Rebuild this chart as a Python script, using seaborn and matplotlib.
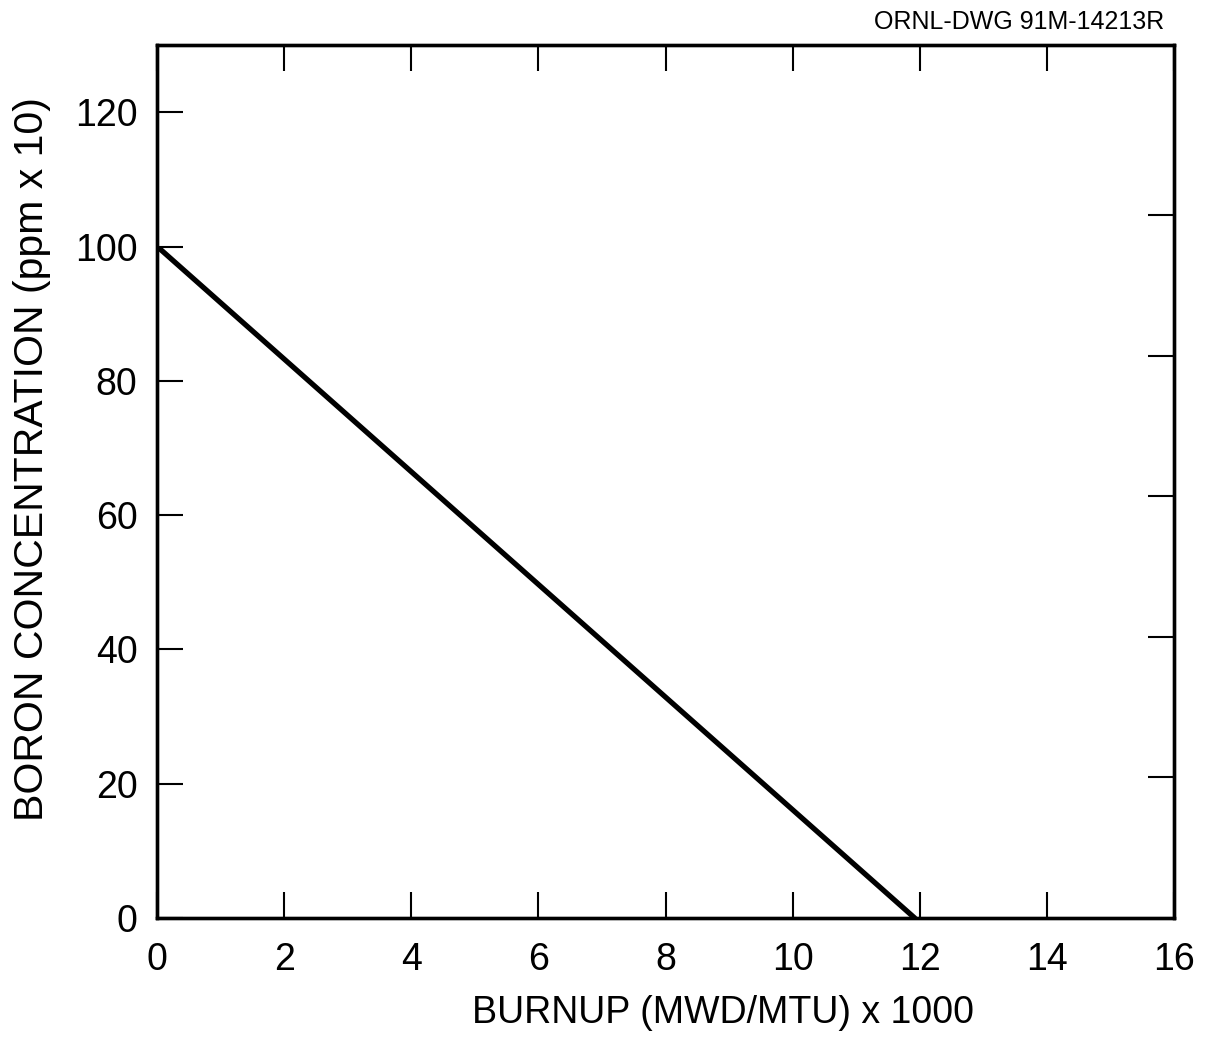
import numpy as np
import matplotlib
matplotlib.use('Agg')
import matplotlib.pyplot as plt
import seaborn as sns
import pandas as pd

# valores
quemado = [0.05, 11.92]          # BURNUP (MWD/MTU) x 1000
boro = [99.6, 0.0]               # BORON CONCENTRATION (ppm x 10)
ticks_x = [0, 2, 4, 6, 8, 10, 12, 14, 16]
ticks_y = [0, 20, 40, 60, 80, 100, 120]
ticks_derecha = [20, 40, 60, 80, 100]

sns.set_style('ticks')
plt.rcParams['font.family'] = ['Liberation Sans', 'DejaVu Sans']
plt.rcParams['text.color'] = 'black'
plt.rcParams['axes.labelcolor'] = 'black'
plt.rcParams['axes.edgecolor'] = 'black'

fig = plt.figure(figsize=(12.09, 10.38), dpi=100)
ax = fig.add_axes([0.1299, 0.1156, 0.8412, 0.841])

datos = pd.DataFrame({'x': quemado, 'y': boro})
sns.lineplot(data=datos, x='x', y='y', ax=ax, color='black', linewidth=3.8)

ax.set_xlim(0, 16)
ax.set_ylim(0, 130)
ax.set_xticks(ticks_x)
ax.set_yticks(ticks_y)
ax.tick_params(axis='both', direction='in', length=19, width=1.5, labelsize=27, colors='black')
ax.tick_params(axis='x', pad=17, top=True)
ax.tick_params(axis='y', pad=14)
for s in ax.spines.values():
    s.set_linewidth(2.4)
    s.set_color('black')

# eje derecho con sus propias marcas (el dibujo original no coincide con el izquierdo)
ax2 = ax.twinx()
ax2.set_ylim(0, 130 / 1.047)
ax2.set_yticks(ticks_derecha)
ax2.set_yticklabels([])
ax2.tick_params(axis='y', direction='in', length=19, width=1.5, colors='black')
for s in ax2.spines.values():
    s.set_linewidth(2.4)
    s.set_color('black')

ax.set_xlabel('BURNUP (MWD/MTU) x 1000', fontsize=27)
ax.xaxis.set_label_coords(0.556, -0.088)
ax.set_ylabel('BORON CONCENTRATION (ppm x 10)', fontsize=29.5)
ax.yaxis.set_label_coords(-0.104, 0.526)

fig.text(0.963, 0.990, 'ORNL-DWG 91M-14213R', fontsize=18, ha='right', va='top')

plt.savefig('out.png', dpi=100)
plt.close()
